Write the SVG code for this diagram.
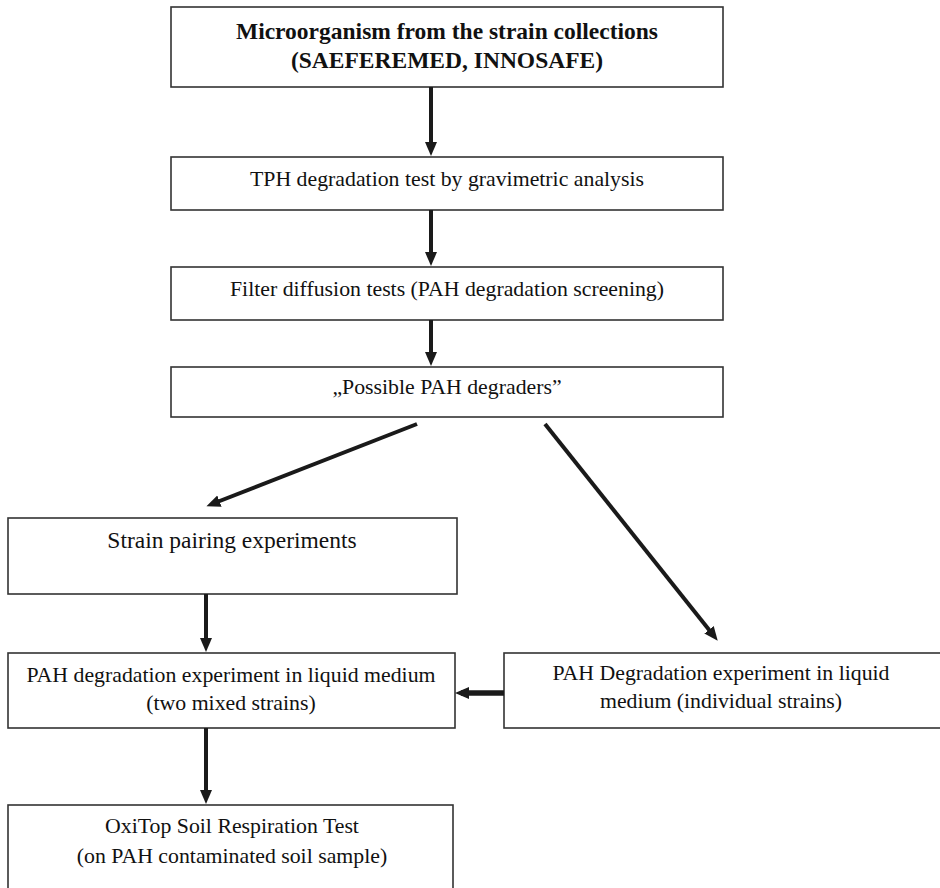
<svg xmlns="http://www.w3.org/2000/svg" width="940" height="888" viewBox="0 0 940 888">
<defs>
<style>
.box{fill:#fff;stroke:#333;stroke-width:1.6}
.t{font-family:"Liberation Serif","Times New Roman",serif;font-size:21.8px;fill:#111;text-anchor:middle}
.tb{font-weight:bold;font-size:23.5px}
.tl{font-size:23.5px}
.c{stroke:#1a1a1a;stroke-width:4;fill:none;marker-end:url(#ah)}
.cw{stroke-width:5.5}
</style>
<marker id="ah" markerUnits="userSpaceOnUse" markerWidth="15" markerHeight="13" refX="8" refY="6.5" orient="auto">
<path d="M0,0.5 L14,6.5 L0,12.5 z" fill="#1a1a1a"/>
</marker>
</defs>
<rect width="940" height="888" fill="#fff"/>
<g id="n1"><rect class="box" x="171" y="7" width="552" height="80"/>
<text class="t tb" x="447" y="39">Microorganism from the strain collections</text>
<text class="t tb" x="447" y="68">(SAEFEREMED, INNOSAFE)</text></g>
<g id="n2"><rect class="box" x="171" y="157" width="552" height="53"/>
<text class="t" x="447" y="186">TPH degradation test by gravimetric analysis</text></g>
<g id="n3"><rect class="box" x="171" y="267" width="552" height="53"/>
<text class="t" x="447" y="296">Filter diffusion tests (PAH degradation screening)</text></g>
<g id="n4"><rect class="box" x="171" y="367" width="552" height="50"/>
<text class="t" x="447" y="394">„Possible PAH degraders”</text></g>
<g id="n5"><rect class="box" x="8" y="518" width="449" height="76"/>
<text class="t tl" x="232" y="548">Strain pairing experiments</text></g>
<g id="n6"><rect class="box" x="8" y="653" width="447" height="75"/>
<text class="t" x="231" y="682">PAH degradation experiment in liquid medium</text>
<text class="t" x="231" y="710">(two mixed strains)</text></g>
<g id="n7"><rect class="box" x="504" y="653" width="440" height="75"/>
<text class="t" x="721" y="680">PAH Degradation experiment in liquid</text>
<text class="t" x="721" y="708">medium (individual strains)</text></g>
<g id="n8"><rect class="box" x="8" y="805" width="445" height="90"/>
<text class="t" x="232" y="833">OxiTop Soil Respiration Test</text>
<text class="t" x="232" y="863">(on PAH contaminated soil sample)</text></g>
<g id="connectors">
<line class="c" x1="431" y1="87" x2="431" y2="150"/>
<line class="c" x1="431" y1="210" x2="431" y2="260"/>
<line class="c" x1="431" y1="320" x2="431" y2="360"/>
<line class="c" x1="417" y1="424" x2="212" y2="504"/>
<line class="c" x1="545" y1="424" x2="714" y2="636"/>
<line class="c" x1="206" y1="594" x2="206" y2="646"/>
<line class="c cw" x1="504" y1="693" x2="461" y2="693"/>
<line class="c" x1="206" y1="728" x2="206" y2="798"/>
</g>
</svg>
